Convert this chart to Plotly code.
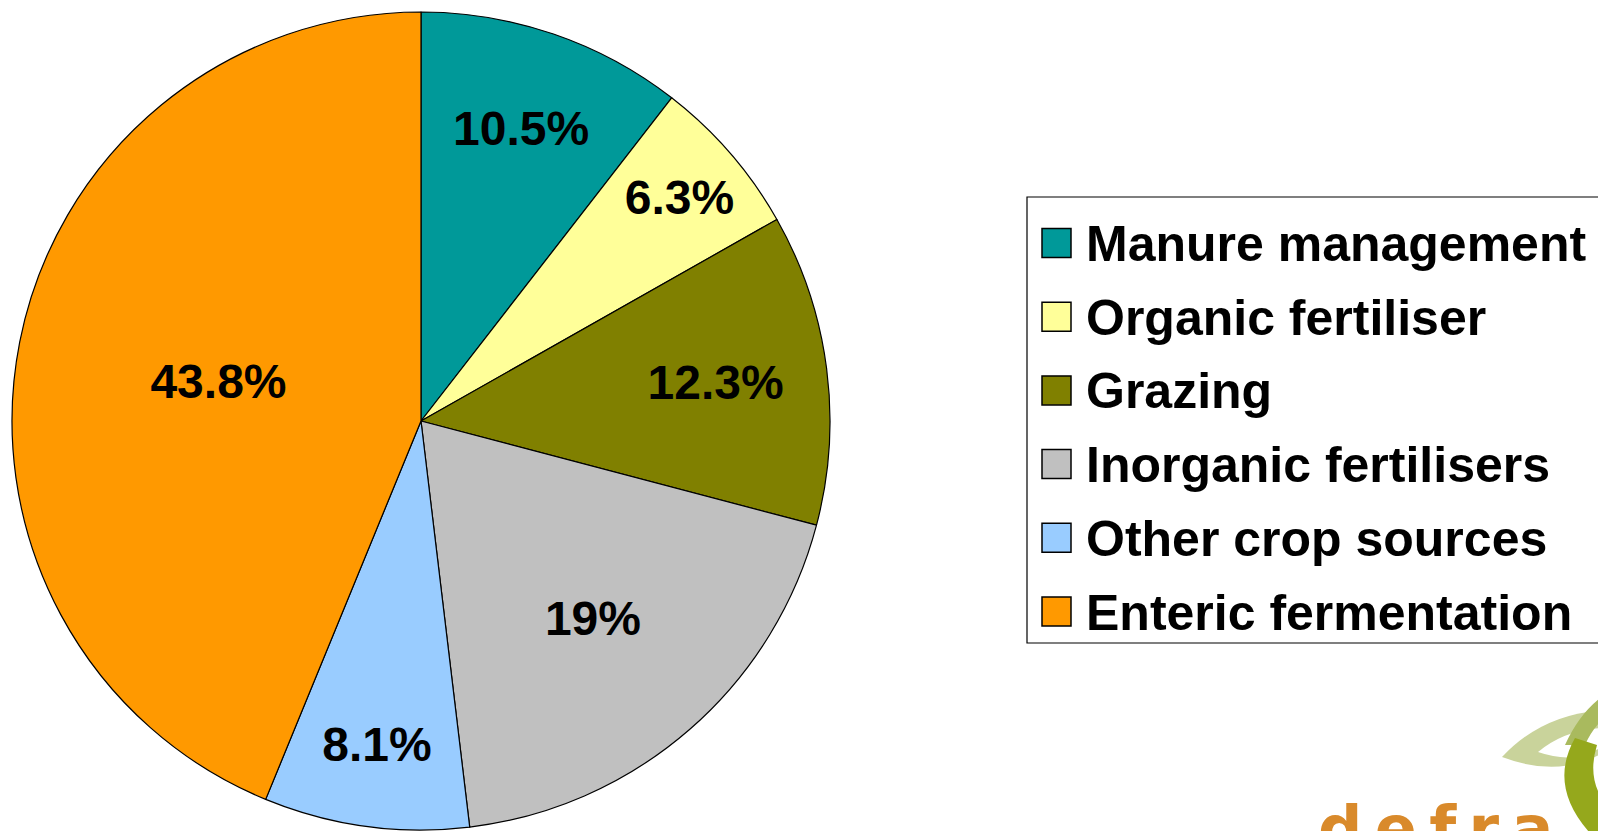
import plotly.graph_objects as go

# data (percent of agricultural emissions)
sources = ["Manure management", "Organic fertiliser", "Grazing",
           "Inorganic fertilisers", "Other crop sources", "Enteric fermentation"]
shares = [10.5, 6.3, 12.3, 19, 8.1, 43.8]
colors = ["#009999", "#FFFF99", "#808000", "#C0C0C0", "#99CCFF", "#FF9900"]

PAGE_W, PAGE_H = 1606, 831
OFF = 8  # the page body keeps an 8px margin round the plot div
W, H = PAGE_W - OFF, PAGE_H - OFF
FONT = "Liberation Sans, Arial, sans-serif"

# pie centre / radius in page pixels
cx, cy, R = 421, 421, 409

fig = go.Figure()
fig.add_trace(go.Pie(
    labels=sources, values=shares, sort=False, direction="clockwise", rotation=0,
    marker=dict(colors=colors, line=dict(color="black", width=1.2)),
    texttemplate="%{value}%", textposition="inside", insidetextorientation="horizontal",
    textfont=dict(family=FONT, size=48, color="black", weight="bold"),
    showlegend=False, hoverinfo="label+value",
    domain=dict(x=[(cx - R - OFF) / W, (cx + R - OFF) / W],
                y=[(PAGE_H - cy - R) / H, (PAGE_H - cy + R) / H]),
))

# hand-built legend so the swatches and spacing match the original
shapes = [dict(type="rect", xref="x", yref="y", x0=1027, x1=1604, y0=197, y1=643,
               line=dict(color="black", width=1.2), fillcolor="white", layer="below")]
annotations = []
row0, step = 243, 73.7
for i, (name, col) in enumerate(zip(sources, colors)):
    yc = row0 + i * step
    shapes.append(dict(type="rect", xref="x", yref="y", x0=1042, x1=1071,
                       y0=yc - 14.5, y1=yc + 14.5, fillcolor=col,
                       line=dict(color="black", width=1.5)))
    annotations.append(dict(x=1084, y=yc + 1, xref="x", yref="y", text=name,
                            showarrow=False, xanchor="left", yanchor="middle",
                            font=dict(family=FONT, size=50, color="black", weight="bold")))

# rough stand-in for the defra logo cut off in the corner
shapes += [
    dict(type="path", xref="x", yref="y", layer="above",
         path="M 1502 757 Q 1555 700 1645 712 Q 1590 790 1502 757 Z",
         fillcolor="#C9D39B", line=dict(width=0)),
    dict(type="path", xref="x", yref="y", layer="above",
         path="M 1538 752 Q 1570 725 1620 728 Q 1590 770 1538 752 Z",
         fillcolor="white", line=dict(width=0)),
    dict(type="path", xref="x", yref="y", layer="above",
         path="M 1565 745 Q 1590 690 1640 680 L 1640 700 Q 1600 710 1585 745 Z",
         fillcolor="#A9BA5E", line=dict(width=0)),
    dict(type="path", xref="x", yref="y", layer="above",
         path="M 1575 738 Q 1540 800 1620 860 L 1640 830 Q 1580 800 1597 745 Z",
         fillcolor="#95A81C", line=dict(width=0)),
]
annotations.append(dict(x=1435, y=790, xref="x", yref="y",
                        text="d\u2009e\u2009f\u2009r\u2009a",
                        showarrow=False, xanchor="center", yanchor="top",
                        font=dict(family="DejaVu Sans, sans-serif", size=62,
                                  color="#D98A2B", weight="bold")))

fig.update_layout(
    width=W, height=H, margin=dict(l=0, r=0, t=0, b=0),
    paper_bgcolor="white", plot_bgcolor="rgba(0,0,0,0)",
    xaxis=dict(range=[OFF, PAGE_W], visible=False, fixedrange=True),
    yaxis=dict(range=[PAGE_H, OFF], visible=False, fixedrange=True),
    shapes=shapes, annotations=annotations, showlegend=False,
)

fig.write_html("out.html")
